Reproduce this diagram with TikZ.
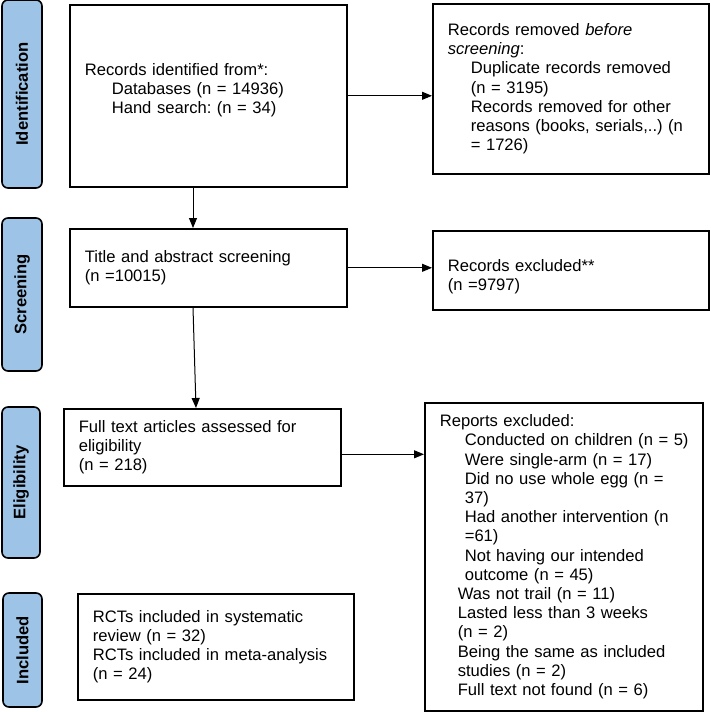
\documentclass[tikz,border=0pt]{standalone}
\usepackage{fontspec}
\setmainfont{Liberation Sans}
\usetikzlibrary{calc}
\usetikzlibrary{graphs}
\usetikzlibrary{positioning}
\usetikzlibrary{arrows.meta}

\definecolor{phaseblue}{RGB}{157,195,230}
\newcommand{\subline}[1][25pt]{\hspace*{#1}}
\frenchspacing

\begin{document}
\begin{tikzpicture}[x=1pt, y=-1pt,
        every node/.style={draw, line width=1.6pt, align=left, inner xsep=15pt, inner ysep=0pt, font=\fontsize{16.6pt}{19.2pt}\selectfont},
        box/.style={anchor=north west},
        phase/.style={rotate=90, fill=phaseblue, rounded corners=6pt, inner sep=0pt, align=center, font=\bfseries\fontsize{16.6pt}{19.2pt}\selectfont}]
        \useasboundingbox (0,0) rectangle (710,712);

        \node[phase, minimum width=188pt, minimum height=40pt] (id phase) at (22,94) {Identification};
        \node[phase, minimum width=153pt, minimum height=40pt] (screen phase) at (22,294.5) {Screening};
        \node[phase, minimum width=151pt, minimum height=38pt] (elig phase) at (21,482.5) {Eligibility};
        \node[phase, minimum width=114pt, minimum height=39pt] (incl phase) at (22.5,650) {Included};

        \node[box, text width=247pt, minimum height=182pt] (identified) at (69,4) {Records identified from*:\\ \subline[27pt]Databases (n = 14936)\\ \subline[27pt]Hand search: (n = 34)\\[-5pt]\mbox{}};
        \node[box, text width=246pt, minimum height=170pt] (removed) at (432,3) {Records removed \textit{before}\\ \textit{screening}:\\ \subline[23pt]Duplicate records removed\\ \subline[23pt](n = 3195)\\ \subline[23pt]Records removed for other\\ \subline[23pt]reasons (books, serials,..) (n\\ \subline[23pt]= 1726)};

        \node[box, text width=247pt, minimum height=78pt] (screened) at (69,228) {Title and abstract screening\\ (n =10015)};
        \node[box, text width=246pt, minimum height=79pt] (excluded) at (432,230) {\mbox{}\\[5pt]Records excluded**\\ (n =9797)};

        \node[box, text width=247pt, minimum height=77pt] (assessed) at (63,408) {Full text articles assessed for\\ eligibility\\ (n = 218)};
        \node[box, text width=248pt, minimum height=308pt] (reports) at (424,402) {Reports excluded:\\ \subline\mbox{Conducted on children (n = 5)}\\ \subline Were single-arm (n = 17)\\ \subline Did no use whole egg (n =\\ \subline 37)\\ \subline Had another intervention (n\\ \subline =61)\\ \subline Not having our intended\\ \subline outcome (n = 45)\\ \subline[18pt]Was not trail (n = 11)\\ \subline[18pt]Lasted less than 3 weeks\\ \subline[18pt](n = 2)\\ \subline[18pt]Being the same as included\\ \subline[18pt]studies (n = 2)\\ \subline[18pt]Full text not found (n = 6)};

        \node[box, text width=246pt, minimum height=106pt] (included) at (77,593) {RCTs included in systematic\\ review (n = 32)\\ RCTs included in meta-analysis\\ (n = 24)};

        \coordinate (id out) at ([xshift=124pt]identified.south west);
        \coordinate (screen in) at ([xshift=124pt]screened.north west);
        \coordinate (screen out) at ([xshift=124pt]screened.south west);
        \coordinate (full in) at ([xshift=133pt]assessed.north west);
        \coordinate (id side) at (identified.east);
        \coordinate (removed port) at (id side -| removed.west);
        \coordinate (screen side) at (screened.east);
        \coordinate (excluded port) at (screen side -| excluded.west);
        \coordinate (full side) at ([yshift=-7pt]assessed.east);
        \coordinate (reports port) at (full side -| reports.west);

        \graph { [edges={draw, line width=1pt, arrows={-{Triangle[length=10pt, width=8pt]}}}]
            (id out) -> (screen in),
            (screen out) -> (full in),
            (id side) -> (removed port),
            (screen side) -> (excluded port),
            (full side) -> (reports port),
        };
    \end{tikzpicture}
\end{document}
